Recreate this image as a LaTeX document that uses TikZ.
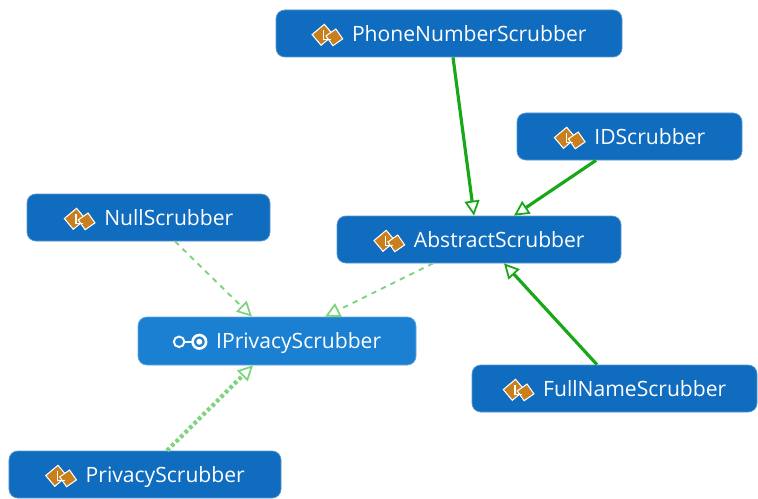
\documentclass[tikz,border=0pt]{standalone}
\usepackage{fontspec}
\setmainfont{Open Sans}
\usetikzlibrary{arrows.meta}
\definecolor{boxblue}{RGB}{16,108,190}
\definecolor{ifblue}{RGB}{28,128,210}
\definecolor{iconorange}{RGB}{200,128,30}
\definecolor{inhgreen}{RGB}{22,168,22}
\definecolor{impgreen}{RGB}{125,212,125}
\newcommand{\clsicon}{\tikz[baseline=-0.6ex,scale=0.04,sharp corners]{
  \filldraw[fill=iconorange,draw=white,line width=0.6pt,rotate=40] (-5,-3) rectangle (3,4);
  \filldraw[fill=iconorange,draw=white,line width=0.6pt,rotate=35] (0,-7) rectangle (6,-1);
  \draw[white,line width=0.7pt] (-0.5,2) -- (-0.5,-2.5) -- (3,-2.5);}}
\newcommand{\ifcicon}{\tikz[baseline=-0.6ex,scale=0.03,sharp corners]{
  \draw[white,line width=1.1pt] (-7,0) circle (3.5);
  \draw[white,line width=1.1pt] (-3.5,0) -- (2,0);
  \draw[white,line width=1.5pt] (6.5,0) circle (4.5);
  \fill[white] (6.5,0) circle (2);}}
\begin{document}
\begin{tikzpicture}[
    typebox/.style={fill=boxblue, rounded corners=5pt, draw=boxblue!70!white, line width=0.4pt,
      minimum height=0.94cm, text=white, font=\fontsize{12}{14}\selectfont, inner sep=0pt,
      text height=8.6pt, text depth=0pt},
    ifcbox/.style={typebox, fill=ifblue, draw=ifblue!70!white},
    inherits/.style={draw=inhgreen, line width=1.8pt,
      -{Triangle[open, length=0.3cm, width=0.3cm, line width=1pt]}},
    implements/.style={draw=impgreen, line width=1.1pt, dash pattern=on 3pt off 3pt,
      -{Triangle[open, length=0.3cm, width=0.3cm, line width=1pt]}},
    realizes/.style={draw=impgreen, line width=2.4pt, dash pattern=on 2pt off 1.6pt,
      -{Triangle[open, length=0.3cm, width=0.3cm, line width=1pt]}}]
  \useasboundingbox (0,0) rectangle (15.16,-9.96);
  \node[typebox, minimum width=6.92cm] (phone) at (8.98,-0.67) {\clsicon\hspace{5pt}PhoneNumberScrubber};
  \node[typebox, minimum width=4.5cm] (id) at (12.59,-2.73) {\clsicon\hspace{5pt}IDScrubber};
  \node[typebox, minimum width=4.86cm] (null) at (2.97,-4.35) {\clsicon\hspace{5pt}NullScrubber};
  \node[typebox, minimum width=5.68cm] (abstract) at (9.58,-4.79) {\clsicon\hspace{5pt}AbstractScrubber};
  \node[ifcbox, minimum width=5.56cm, minimum height=0.96cm] (iface) at (5.54,-6.82) {\ifcicon\hspace{5pt}IPrivacyScrubber};
  \node[typebox, minimum width=5.7cm] (fullname) at (12.29,-7.77) {\clsicon\hspace{5pt}FullNameScrubber};
  \node[typebox, minimum width=5.44cm] (privacy) at (2.9,-9.49) {\clsicon\hspace{5pt}PrivacyScrubber};
  \draw[inherits] ([xshift=0.08cm]phone.south) -- ([xshift=-0.1cm]abstract.north);
  \draw[inherits] ([xshift=-0.67cm]id.south) -- ([xshift=0.7cm]abstract.north);
  \draw[inherits] ([xshift=-0.35cm]fullname.north) -- ([xshift=0.5cm]abstract.south);
  \draw[implements] ([xshift=0.53cm]null.south) -- ([xshift=-0.5cm]iface.north);
  \draw[implements] ([xshift=-0.92cm]abstract.south) -- ([xshift=0.96cm]iface.north);
  \draw[realizes] ([xshift=0.44cm]privacy.north) -- ([xshift=-0.48cm]iface.south);
\end{tikzpicture}
\end{document}
